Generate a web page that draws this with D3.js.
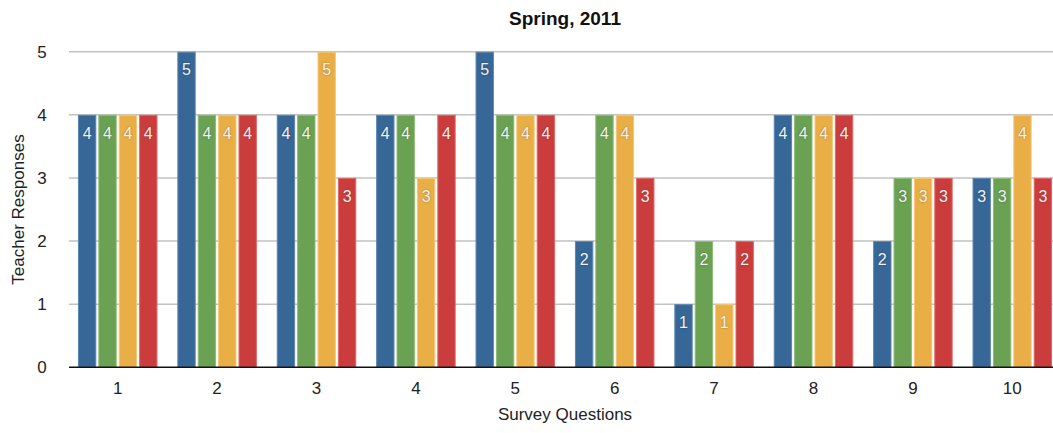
<!DOCTYPE html>
<html>
<head>
<meta charset="utf-8">
<script src="https://cdn.jsdelivr.net/npm/d3@7"></script>
<style>
  html, body { margin: 0; padding: 0; background: #fff; }
  svg { display: block; font-family: "Liberation Sans", Arial, Helvetica, sans-serif; }
</style>
</head>
<body>
<svg id="chart" width="1053" height="433"></svg>
<script>
// Survey questions along the x axis
const questions = ["1", "2", "3", "4", "5", "6", "7", "8", "9", "10"];
// Four teachers' responses per question
const seriesNames = ["A", "B", "C", "D"];
const seriesA = [4, 5, 4, 4, 5, 2, 1, 4, 2, 3];
const seriesB = [4, 4, 4, 4, 4, 4, 2, 4, 3, 3];
const seriesC = [4, 4, 5, 3, 4, 4, 1, 4, 3, 4];
const seriesD = [4, 4, 3, 4, 4, 3, 2, 4, 3, 3];
const yTicks = [0, 1, 2, 3, 4, 5];
const colors = ["#366797", "#6aa152", "#e9ae45", "#cb3d3c"];
const edgeColors = ["#5b86b3", "#8cbc76", "#f3c876", "#dd6766"];

const seriesValues = [seriesA, seriesB, seriesC, seriesD];

const svg = d3.select("#chart");
const plot = { left: 69, right: 1061, top: 51.7, bottom: 367.3 };

const x = d3.scaleBand()
  .domain(questions)
  .range([plot.left, plot.right])
  .paddingInner(0.2)
  .paddingOuter(0.09);

const xs = d3.scaleBand()
  .domain(d3.range(seriesNames.length))
  .range([0, x.bandwidth()])
  .paddingInner(0.1)
  .paddingOuter(0);

const y = d3.scaleLinear().domain([0, 5]).range([plot.bottom, plot.top]);

// Horizontal gridlines
svg.append("g")
  .selectAll("line")
  .data(yTicks.filter(d => d > 0))
  .join("line")
  .attr("x1", plot.left)
  .attr("x2", plot.right)
  .attr("y1", d => y(d))
  .attr("y2", d => y(d))
  .attr("stroke", "#c2c2c2")
  .attr("stroke-width", 1.6);

// Y tick labels
svg.append("g")
  .selectAll("text")
  .data(yTicks)
  .join("text")
  .attr("x", 42)
  .attr("y", d => y(d))
  .attr("dy", "0.36em")
  .attr("text-anchor", "middle")
  .attr("font-size", 17)
  .attr("fill", "#222")
  .text(d => d);

// Bars
const groups = svg.append("g")
  .selectAll("g")
  .data(questions)
  .join("g")
  .attr("transform", d => `translate(${x(d)},0)`);

const cells = groups.selectAll("g")
  .data((q, qi) => seriesValues.map((vals, si) => ({ si, v: vals[qi] })))
  .join("g");

cells.append("rect")
  .attr("x", d => xs(d.si) + 0.5)
  .attr("y", d => y(d.v) + 0.5)
  .attr("width", xs.bandwidth() - 1)
  .attr("height", d => y(0) - y(d.v) - 0.5)
  .attr("fill", d => colors[d.si])
  .attr("stroke", d => edgeColors[d.si])
  .attr("stroke-width", 1);

// Value labels inside the bar tops
cells.append("text")
  .attr("x", d => xs(d.si) + xs.bandwidth() / 2)
  .attr("y", d => y(d.v) + 18)
  .attr("dy", "0.36em")
  .attr("text-anchor", "middle")
  .attr("font-size", 16)
  .attr("fill", "#f2f2f2")
  .style("text-shadow", "0 0 2px rgba(0,0,0,0.35)")
  .text(d => d.v);

// Baseline
svg.append("line")
  .attr("x1", plot.left)
  .attr("x2", plot.right)
  .attr("y1", y(0))
  .attr("y2", y(0))
  .attr("stroke", "#111")
  .attr("stroke-width", 1.6);

// X tick labels
svg.append("g")
  .selectAll("text")
  .data(questions)
  .join("text")
  .attr("x", d => x(d) + x.bandwidth() / 2)
  .attr("y", 388)
  .attr("dy", "0.36em")
  .attr("text-anchor", "middle")
  .attr("font-size", 17)
  .attr("fill", "#222")
  .text(d => d);

// Title and axis titles
svg.append("text")
  .attr("x", (plot.left + plot.right) / 2)
  .attr("y", 18)
  .attr("dy", "0.36em")
  .attr("text-anchor", "middle")
  .attr("font-size", 19)
  .attr("font-weight", "bold")
  .attr("fill", "#111")
  .text("Spring, 2011");

svg.append("text")
  .attr("x", (plot.left + plot.right) / 2)
  .attr("y", 414)
  .attr("dy", "0.36em")
  .attr("text-anchor", "middle")
  .attr("font-size", 17)
  .attr("fill", "#222")
  .text("Survey Questions");

svg.append("text")
  .attr("transform", `translate(18,${(plot.top + plot.bottom) / 2}) rotate(-90)`)
  .attr("dy", "0.36em")
  .attr("text-anchor", "middle")
  .attr("font-size", 17)
  .attr("fill", "#222")
  .text("Teacher Responses");
</script>
</body>
</html>
